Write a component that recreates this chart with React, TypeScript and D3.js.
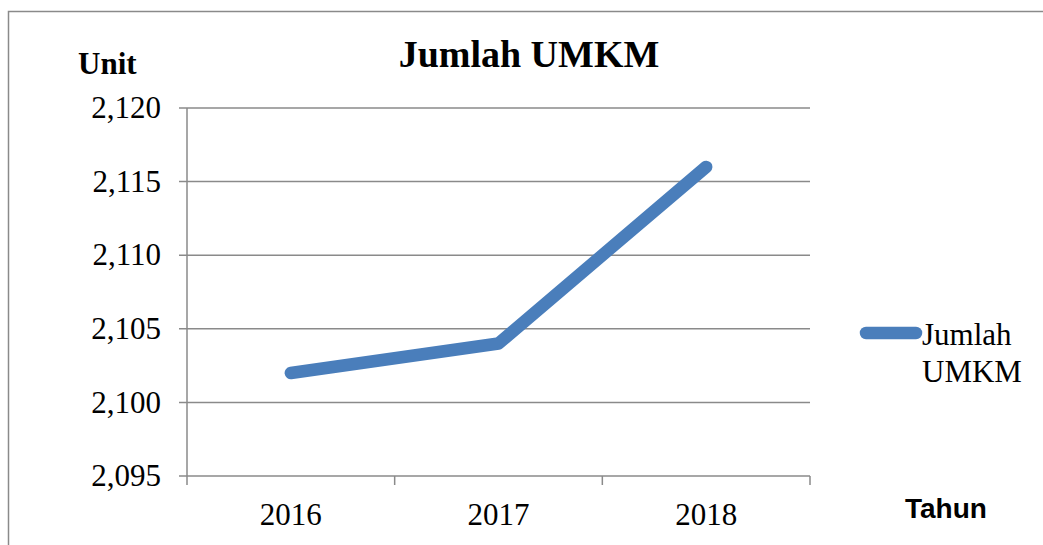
import React from "react";
import * as d3 from "d3";

const years = ["2016", "2017", "2018"];
const jumlahUmkm = [2102, 2104, 2116];
const yTicks = [2095, 2100, 2105, 2110, 2115, 2120];

const W = 1043;
const H = 545;
const plot = { left: 187, right: 810, top: 108, bottom: 476 };
const serif = "'Liberation Serif', 'Times New Roman', serif";
const gridColor = "#8a8a8a";
const lineColor = "#4a7ebb";

export default function App() {
  const x = d3.scaleBand().domain(years).range([plot.left, plot.right]);
  const y = d3.scaleLinear().domain([2095, 2120]).range([plot.bottom, plot.top]);

  const line = d3
    .line<number>()
    .x((_, i) => (x(years[i]) as number) + x.bandwidth() / 2)
    .y((d) => y(d));

  // category boundaries for x ticks
  const xEdges = years.map((c) => x(c) as number).concat([plot.right]);

  return (
    <svg
      width={W}
      height={H}
      style={{ position: "absolute", left: 0, top: 0, background: "#fff" }}
    >
      {/* outer chart frame */}
      <rect
        x={8.5}
        y={11.5}
        width={W + 20}
        height={H + 20}
        fill="none"
        stroke={gridColor}
        strokeWidth={1.5}
      />

      {/* title */}
      <text
        x={529}
        y={67}
        textAnchor="middle"
        fontFamily={serif}
        fontWeight="bold"
        fontSize={38}
      >
        Jumlah UMKM
      </text>

      <text x={78} y={74} fontFamily={serif} fontWeight="bold" fontSize={31}>
        Unit
      </text>

      {/* gridlines and y ticks */}
      {yTicks.map((t) => (
        <g key={t}>
          <line
            x1={plot.left - 8}
            x2={plot.right}
            y1={y(t)}
            y2={y(t)}
            stroke={gridColor}
            strokeWidth={1.5}
          />
          <text
            x={161}
            y={y(t)}
            dy="0.33em"
            textAnchor="end"
            fontFamily={serif}
            fontSize={31}
          >
            {d3.format(",")(t)}
          </text>
        </g>
      ))}

      {/* y axis */}
      <line
        x1={plot.left}
        x2={plot.left}
        y1={plot.top}
        y2={plot.bottom}
        stroke={gridColor}
        strokeWidth={1.5}
      />

      {/* x ticks */}
      {xEdges.map((e, i) => (
        <line
          key={i}
          x1={e}
          x2={e}
          y1={plot.bottom}
          y2={plot.bottom + 9}
          stroke={gridColor}
          strokeWidth={1.5}
        />
      ))}
      {years.map((c) => (
        <text
          key={c}
          x={(x(c) as number) + x.bandwidth() / 2}
          y={525}
          textAnchor="middle"
          fontFamily={serif}
          fontSize={31}
        >
          {c}
        </text>
      ))}

      {/* series */}
      <path
        d={line(jumlahUmkm) || ""}
        fill="none"
        stroke={lineColor}
        strokeWidth={12.5}
        strokeLinecap="round"
        strokeLinejoin="round"
      />

      {/* legend */}
      <line
        x1={866}
        x2={916}
        y1={333}
        y2={333}
        stroke={lineColor}
        strokeWidth={12.5}
        strokeLinecap="round"
      />
      <text x={922} y={345} fontFamily={serif} fontSize={31}>
        Jumlah
      </text>
      <text x={922} y={382} fontFamily={serif} fontSize={31}>
        UMKM
      </text>

      <text
        x={905}
        y={518}
        fontFamily="'Liberation Sans', Arial, sans-serif"
        fontWeight="bold"
        fontSize={28}
      >
        Tahun
      </text>
    </svg>
  );
}
